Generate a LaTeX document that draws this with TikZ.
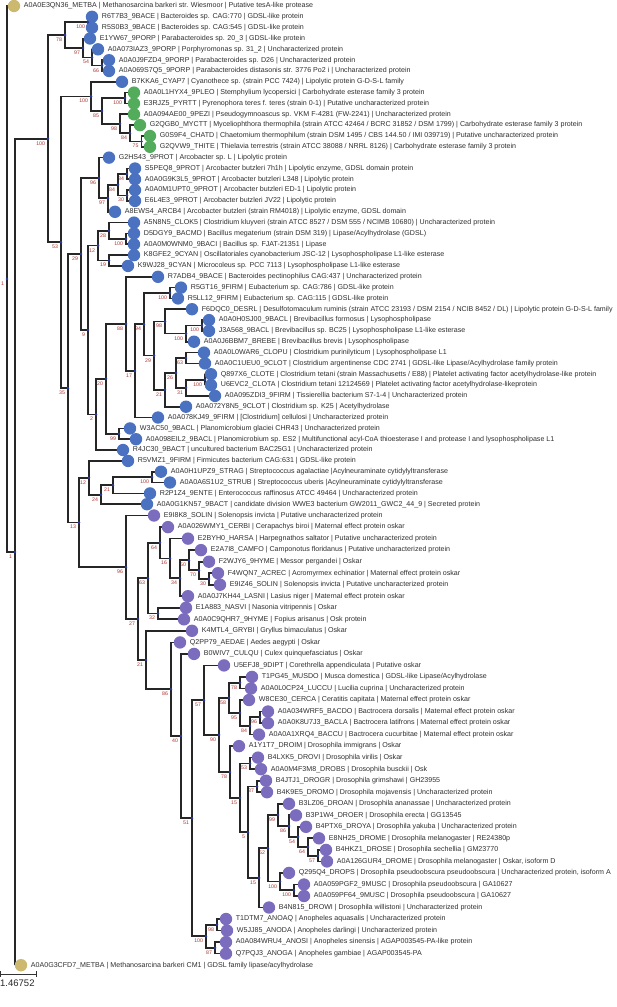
\documentclass[tikz,border=0pt]{standalone}
\usepackage{fontspec}
\setmainfont{Liberation Sans}
\usetikzlibrary{calc}
\pgfdeclarelayer{front}
\pgfsetlayers{main,front}
\definecolor{cblue}{RGB}{74,114,192}
\definecolor{cgreen}{RGB}{82,172,92}
\definecolor{cpurple}{RGB}{124,108,190}
\definecolor{ctan}{RGB}{205,184,112}
\definecolor{cnavy}{RGB}{40,60,160}
\definecolor{cboot}{RGB}{172,52,52}
\newcommand\clade[5]{%
  \path let \p1=($(#3)!.5!(#4)$) in (#2pt,\y1) coordinate (#1);
  \draw[twig] (#3) -| (#1) |- (#4);
  \begin{pgfonlayer}{front}\fill[cnavy] (#1) circle (1.4pt);\end{pgfonlayer}
  \node[boot] (#1b) at (#1) {#5};}

\begin{document}
\begin{tikzpicture}[x=1pt,y=-1pt,label distance=3.3pt,
    twig/.style={line width=1.7pt,draw=black!85},
    leaf/.style={circle,fill=#1,inner sep=0pt,minimum size=12.4pt},
    lab/.style={inner sep=0pt,font=\fontsize{7.1}{8}\selectfont,text=black!82},
    boot/.style={anchor=north east,inner sep=0.3pt,xshift=-2.5pt,yshift=-2.3pt,
      font=\fontsize{5.2}{6}\selectfont,text=cboot}]
\useasboundingbox (0,0) rectangle (617,1007);
\begin{pgfonlayer}{front}
\node[leaf=ctan,label={[lab]right:{A0A0E3QN36\_METBA | Methanosarcina barkeri str. Wiesmoor | Putative tesA-like protease}}] (a0a0e3qn36) at (14,6) {};
\node[leaf=cblue,label={[lab]right:{R6T7B3\_9BACE | Bacteroides sp. CAG:770 | GDSL-like protein}}] (r6t7b3) at (92,16.8) {};
\node[leaf=cblue,label={[lab]right:{R5S0B3\_9BACE | Bacteroides sp. CAG:545 | GDSL-like protein}}] (r5s0b3) at (92,27.7) {};
\node[leaf=cblue,label={[lab]right:{E1YW67\_9PORP | Parabacteroides sp. 20\_3 | GDSL-like protein}}] (e1yw67) at (90,38.5) {};
\node[leaf=cblue,label={[lab]right:{A0A073IAZ3\_9PORP | Porphyromonas sp. 31\_2 | Uncharacterized protein}}] (a0a073iaz3) at (98,49.3) {};
\node[leaf=cblue,label={[lab]right:{A0A0J9FZD4\_9PORP | Parabacteroides sp. D26 | Uncharacterized protein}}] (a0a0j9fzd4) at (109,60.2) {};
\node[leaf=cblue,label={[lab]right:{A0A069S7Q5\_9PORP | Parabacteroides distasonis str. 3776 Po2 i | Uncharacterized protein}}] (a0a069s7q5) at (109,71.0) {};
\node[leaf=cblue,label={[lab]right:{B7KKA6\_CYAP7 | Cyanothece sp. (strain PCC 7424) | Lipolytic protein G-D-S-L family}}] (b7kka6) at (122,81.8) {};
\node[leaf=cgreen,label={[lab]right:{A0A0L1HYX4\_9PLEO | Stemphylium lycopersici | Carbohydrate esterase family 3 protein}}] (a0a0l1hyx4) at (134,92.6) {};
\node[leaf=cgreen,label={[lab]right:{E3RJZ5\_PYRTT | Pyrenophora teres f. teres (strain 0-1) | Putative uncharacterized protein}}] (e3rjz5) at (134,103.5) {};
\node[leaf=cgreen,label={[lab]right:{A0A094AE00\_9PEZI | Pseudogymnoascus sp. VKM F-4281 (FW-2241) | Uncharacterized protein}}] (a0a094ae00) at (134,114.3) {};
\node[leaf=cgreen,label={[lab]right:{G2QGB0\_MYCTT | Myceliophthora thermophila (strain ATCC 42464 / BCRC 31852 / DSM 1799) | Carbohydrate esterase family 3 protein}}] (g2qgb0) at (140,125.1) {};
\node[leaf=cgreen,label={[lab]right:{G0S9F4\_CHATD | Chaetomium thermophilum (strain DSM 1495 / CBS 144.50 / IMI 039719) | Putative uncharacterized protein}}] (g0s9f4) at (150,136.0) {};
\node[leaf=cgreen,label={[lab]right:{G2QVW9\_THITE | Thielavia terrestris (strain ATCC 38088 / NRRL 8126) | Carbohydrate esterase family 3 protein}}] (g2qvw9) at (150,146.8) {};
\node[leaf=cblue,label={[lab]right:{G2HS43\_9PROT | Arcobacter sp. L | Lipolytic protein}}] (g2hs43) at (109,157.6) {};
\node[leaf=cblue,label={[lab]right:{S5PEQ8\_9PROT | Arcobacter butzleri 7h1h | Lipolytic enzyme, GDSL domain protein}}] (s5peq8) at (135,168.5) {};
\node[leaf=cblue,label={[lab]right:{A0A0G9K3L5\_9PROT | Arcobacter butzleri L348 | Lipolytic protein}}] (a0a0g9k3l5) at (135,179.3) {};
\node[leaf=cblue,label={[lab]right:{A0A0M1UPT0\_9PROT | Arcobacter butzleri ED-1 | Lipolytic protein}}] (a0a0m1upt0) at (135,190.1) {};
\node[leaf=cblue,label={[lab]right:{E6L4E3\_9PROT | Arcobacter butzleri JV22 | Lipolytic protein}}] (e6l4e3) at (135,200.9) {};
\node[leaf=cblue,label={[lab]right:{A8EWS4\_ARCB4 | Arcobacter butzleri (strain RM4018) | Lipolytic enzyme, GDSL domain}}] (a8ews4) at (115,211.8) {};
\node[leaf=cblue,label={[lab]right:{A5N8N5\_CLOK5 | Clostridium kluyveri (strain ATCC 8527 / DSM 555 / NCIMB 10680) | Uncharacterized protein}}] (a5n8n5) at (134,222.6) {};
\node[leaf=cblue,label={[lab]right:{D5DGY9\_BACMD | Bacillus megaterium (strain DSM 319) | Lipase/Acylhydrolase (GDSL)}}] (d5dgy9) at (134,233.4) {};
\node[leaf=cblue,label={[lab]right:{A0A0M0WNM0\_9BACI | Bacillus sp. FJAT-21351 | Lipase}}] (a0a0m0wnm0) at (134,244.3) {};
\node[leaf=cblue,label={[lab]right:{K8GFE2\_9CYAN | Oscillatoriales cyanobacterium JSC-12 | Lysophospholipase L1-like esterase}}] (k8gfe2) at (134,255.1) {};
\node[leaf=cblue,label={[lab]right:{K9WJ28\_9CYAN | Microcoleus sp. PCC 7113 | Lysophospholipase L1-like esterase}}] (k9wj28) at (128,265.9) {};
\node[leaf=cblue,label={[lab]right:{R7ADB4\_9BACE | Bacteroides pectinophilus CAG:437 | Uncharacterized protein}}] (r7adb4) at (158,276.8) {};
\node[leaf=cblue,label={[lab]right:{R5GT16\_9FIRM | Eubacterium sp. CAG:786 | GDSL-like protein}}] (r5gt16) at (181,287.6) {};
\node[leaf=cblue,label={[lab]right:{R5LL12\_9FIRM | Eubacterium sp. CAG:115 | GDSL-like protein}}] (r5ll12) at (178,298.4) {};
\node[leaf=cblue,label={[lab]right:{F6DQC0\_DESRL | Desulfotomaculum ruminis (strain ATCC 23193 / DSM 2154 / NCIB 8452 / DL) | Lipolytic protein G-D-S-L family}}] (f6dqc0) at (192,309.2) {};
\node[leaf=cblue,label={[lab]right:{A0A0H0SJ00\_9BACL | Brevibacillus formosus | Lysophospholipase}}] (a0a0h0sj00) at (209,320.1) {};
\node[leaf=cblue,label={[lab]right:{J3A568\_9BACL | Brevibacillus sp. BC25 | Lysophospholipase L1-like esterase}}] (j3a568) at (209,330.9) {};
\node[leaf=cblue,label={[lab]right:{A0A0J6BBM7\_BREBE | Brevibacillus brevis | Lysophospholipase}}] (a0a0j6bbm7) at (194,341.7) {};
\node[leaf=cblue,label={[lab]right:{A0A0L0WAR6\_CLOPU | Clostridium purinilyticum | Lysophospholipase L1}}] (a0a0l0war6) at (204,352.6) {};
\node[leaf=cblue,label={[lab]right:{A0A0C1UEU0\_9CLOT | Clostridium argentinense CDC 2741 | GDSL-like Lipase/Acylhydrolase family protein}}] (a0a0c1ueu0) at (205,363.4) {};
\node[leaf=cblue,label={[lab]right:{Q897X6\_CLOTE | Clostridium tetani (strain Massachusetts / E88) | Platelet activating factor acetylhydrolase-like protein}}] (q897x6) at (211,374.2) {};
\node[leaf=cblue,label={[lab]right:{U6EVC2\_CLOTA | Clostridium tetani 12124569 | Platelet activating factor acetylhydrolase-likeprotein}}] (u6evc2) at (211,385.1) {};
\node[leaf=cblue,label={[lab]right:{A0A095ZDI3\_9FIRM | Tissierellia bacterium S7-1-4 | Uncharacterized protein}}] (a0a095zdi3) at (215,395.9) {};
\node[leaf=cblue,label={[lab]right:{A0A072Y8N5\_9CLOT | Clostridium sp. K25 | Acetylhydrolase}}] (a0a072y8n5) at (186,406.7) {};
\node[leaf=cblue,label={[lab]right:{A0A078KJ49\_9FIRM | [Clostridium] cellulosi | Uncharacterized protein}}] (a0a078kj49) at (158,417.5) {};
\node[leaf=cblue,label={[lab]right:{W3AC50\_9BACL | Planomicrobium glaciei CHR43 | Uncharacterized protein}}] (w3ac50) at (130,428.4) {};
\node[leaf=cblue,label={[lab]right:{A0A098EIL2\_9BACL | Planomicrobium sp. ES2 | Multifunctional acyl-CoA thioesterase I and protease I and lysophospholipase L1}}] (a0a098eil2) at (136,439.2) {};
\node[leaf=cblue,label={[lab]right:{R4JC30\_9BACT | uncultured bacterium BAC25G1 | Uncharacterized protein}}] (r4jc30) at (123,450.0) {};
\node[leaf=cblue,label={[lab]right:{R5VMZ1\_9FIRM | Firmicutes bacterium CAG:631 | GDSL-like protein}}] (r5vmz1) at (128,460.9) {};
\node[leaf=cblue,label={[lab]right:{A0A0H1UPZ9\_STRAG | Streptococcus agalactiae |Acylneuraminate cytidylyltransferase}}] (a0a0h1upz9) at (161,471.7) {};
\node[leaf=cblue,label={[lab]right:{A0A0A6S1U2\_STRUB | Streptococcus uberis |Acylneuraminate cytidylyltransferase}}] (a0a0a6s1u2) at (170,482.5) {};
\node[leaf=cblue,label={[lab]right:{R2P1Z4\_9ENTE | Enterococcus raffinosus ATCC 49464 | Uncharacterized protein}}] (r2p1z4) at (150,493.4) {};
\node[leaf=cblue,label={[lab]right:{A0A0G1KN57\_9BACT | candidate division WWE3 bacterium GW2011\_GWC2\_44\_9 | Secreted protein}}] (a0a0g1kn57) at (147,504.2) {};
\node[leaf=cpurple,label={[lab]right:{E9I8K8\_SOLIN | Solenopsis invicta | Putative uncharacterized protein}}] (e9i8k8) at (154,515.5) {};
\node[leaf=cpurple,label={[lab]right:{A0A026WMY1\_CERBI | Cerapachys biroi | Maternal effect protein oskar}}] (a0a026wmy1) at (168,527.1) {};
\node[leaf=cpurple,label={[lab]right:{E2BYH0\_HARSA | Harpegnathos saltator | Putative uncharacterized protein}}] (e2byh0) at (188,538.6) {};
\node[leaf=cpurple,label={[lab]right:{E2A7I8\_CAMFO | Camponotus floridanus | Putative uncharacterized protein}}] (e2a7i8) at (201,550.1) {};
\node[leaf=cpurple,label={[lab]right:{F2WJY6\_9HYME | Messor pergandei | Oskar}}] (f2wjy6) at (209,561.7) {};
\node[leaf=cpurple,label={[lab]right:{F4WQN7\_ACREC | Acromyrmex echinatior | Maternal effect protein oskar}}] (f4wqn7) at (218,573.2) {};
\node[leaf=cpurple,label={[lab]right:{E9IZ46\_SOLIN | Solenopsis invicta | Putative uncharacterized protein}}] (e9iz46) at (220,584.7) {};
\node[leaf=cpurple,label={[lab]right:{A0A0J7KH44\_LASNI | Lasius niger | Maternal effect protein oskar}}] (a0a0j7kh44) at (188,596.2) {};
\node[leaf=cpurple,label={[lab]right:{E1A883\_NASVI | Nasonia vitripennis | Oskar}}] (e1a883) at (186,607.8) {};
\node[leaf=cpurple,label={[lab]right:{A0A0C9QHR7\_9HYME | Fopius arisanus | Osk protein}}] (a0a0c9qhr7) at (184,619.3) {};
\node[leaf=cpurple,label={[lab]right:{K4MTL4\_GRYBI | Gryllus bimaculatus | Oskar}}] (k4mtl4) at (192,630.8) {};
\node[leaf=cpurple,label={[lab]right:{Q2PP79\_AEDAE | Aedes aegypti | Oskar}}] (q2pp79) at (180,642.4) {};
\node[leaf=cpurple,label={[lab]right:{B0WIV7\_CULQU | Culex quinquefasciatus | Oskar}}] (b0wiv7) at (194,653.9) {};
\node[leaf=cpurple,label={[lab]right:{U5EFJ8\_9DIPT | Corethrella appendiculata | Putative oskar}}] (u5efj8) at (224,665.4) {};
\node[leaf=cpurple,label={[lab]right:{T1PG45\_MUSDO | Musca domestica | GDSL-like Lipase/Acylhydrolase}}] (t1pg45) at (252,676.9) {};
\node[leaf=cpurple,label={[lab]right:{A0A0L0CP24\_LUCCU | Lucilia cuprina | Uncharacterized protein}}] (a0a0l0cp24) at (251,688.5) {};
\node[leaf=cpurple,label={[lab]right:{W8CE30\_CERCA | Ceratitis capitata | Maternal effect protein oskar}}] (w8ce30) at (249,700.0) {};
\node[leaf=cpurple,label={[lab]right:{A0A034WRF5\_BACDO | Bactrocera dorsalis | Maternal effect protein oskar}}] (a0a034wrf5) at (268,711.5) {};
\node[leaf=cpurple,label={[lab]right:{A0A0K8U7J3\_BACLA | Bactrocera latifrons | Maternal effect protein oskar}}] (a0a0k8u7j3) at (268,723.1) {};
\node[leaf=cpurple,label={[lab]right:{A0A0A1XRQ4\_BACCU | Bactrocera cucurbitae | Maternal effect protein oskar}}] (a0a0a1xrq4) at (259,734.6) {};
\node[leaf=cpurple,label={[lab]right:{A1Y1T7\_DROIM | Drosophila immigrans | Oskar}}] (a1y1t7) at (239,746.1) {};
\node[leaf=cpurple,label={[lab]right:{B4LXK5\_DROVI | Drosophila virilis | Oskar}}] (b4lxk5) at (258,757.6) {};
\node[leaf=cpurple,label={[lab]right:{A0A0M4F3M8\_DROBS | Drosophila busckii | Osk}}] (a0a0m4f3m8) at (261,769.2) {};
\node[leaf=cpurple,label={[lab]right:{B4JTJ1\_DROGR | Drosophila grimshawi | GH23955}}] (b4jtj1) at (266,780.7) {};
\node[leaf=cpurple,label={[lab]right:{B4K9E5\_DROMO | Drosophila mojavensis | Uncharacterized protein}}] (b4k9e5) at (267,792.2) {};
\node[leaf=cpurple,label={[lab]right:{B3LZ06\_DROAN | Drosophila ananassae | Uncharacterized protein}}] (b3lz06) at (289,803.8) {};
\node[leaf=cpurple,label={[lab]right:{B3P1W4\_DROER | Drosophila erecta | GG13545}}] (b3p1w4) at (296,815.3) {};
\node[leaf=cpurple,label={[lab]right:{B4PTX6\_DROYA | Drosophila yakuba | Uncharacterized protein}}] (b4ptx6) at (306,826.8) {};
\node[leaf=cpurple,label={[lab]right:{E8NH25\_DROME | Drosophila melanogaster | RE24380p}}] (e8nh25) at (319,838.3) {};
\node[leaf=cpurple,label={[lab]right:{B4HKZ1\_DROSE | Drosophila sechellia | GM23770}}] (b4hkz1) at (326,849.9) {};
\node[leaf=cpurple,label={[lab]right:{A0A126GUR4\_DROME | Drosophila melanogaster | Oskar, isoform D}}] (a0a126gur4) at (327,861.4) {};
\node[leaf=cpurple,label={[lab]right:{Q295Q4\_DROPS | Drosophila pseudoobscura pseudoobscura | Uncharacterized protein, isoform A}}] (q295q4) at (289,872.9) {};
\node[leaf=cpurple,label={[lab]right:{A0A059PGF2\_9MUSC | Drosophila pseudoobscura | GA10627}}] (a0a059pgf2) at (304,884.5) {};
\node[leaf=cpurple,label={[lab]right:{A0A059PF64\_9MUSC | Drosophila pseudoobscura | GA10627}}] (a0a059pf64) at (304,896.0) {};
\node[leaf=cpurple,label={[lab]right:{B4N815\_DROWI | Drosophila willistoni | Uncharacterized protein}}] (b4n815) at (269,907.5) {};
\node[leaf=cpurple,label={[lab]right:{T1DTM7\_ANOAQ | Anopheles aquasalis | Uncharacterized protein}}] (t1dtm7) at (226,919.0) {};
\node[leaf=cpurple,label={[lab]right:{W5JJ85\_ANODA | Anopheles darlingi | Uncharacterized protein}}] (w5jj85) at (227,930.6) {};
\node[leaf=cpurple,label={[lab]right:{A0A084WRU4\_ANOSI | Anopheles sinensis | AGAP003545-PA-like protein}}] (a0a084wru4) at (226,942.1) {};
\node[leaf=cpurple,label={[lab]right:{Q7PQJ3\_ANOGA | Anopheles gambiae | AGAP003545-PA}}] (q7pqj3) at (226,953.6) {};
\node[leaf=ctan,label={[lab]right:{A0A0G3CFD7\_METBA | Methanosarcina barkeri CM1 | GDSL family lipase/acylhydrolase}}] (a0a0g3cfd7) at (21,965.2) {};
\end{pgfonlayer}
\clade{bac100}{88}{r6t7b3}{r5s0b3}{100}
\clade{bac66}{102}{a0a0j9fzd4}{a0a069s7q5}{66}
\clade{bac54}{92}{a0a073iaz3}{bac66}{54}
\clade{bac97}{83}{e1yw67}{bac54}{97}
\clade{bac78}{65}{bac100}{bac97}{78}
\clade{fun100}{125}{a0a0l1hyx4}{e3rjz5}{100}
\clade{fun75}{141.5}{g0s9f4}{g2qvw9}{75}
\clade{fun84}{130}{g2qgb0}{fun75}{84}
\clade{fun98}{120}{a0a094ae00}{fun84}{98}
\clade{fun85}{102}{fun100}{fun98}{85}
\clade{cya100}{91}{b7kka6}{fun85}{100}
\clade{arc84b}{127}{s5peq8}{a0a0g9k3l5}{84}
\clade{arc30}{127}{a0a0m1upt0}{e6l4e3}{30}
\clade{arc84}{118}{arc84b}{arc30}{84}
\clade{arc97}{108}{arc84}{a8ews4}{97}
\clade{arc96}{99}{g2hs43}{arc97}{96}
\clade{cl100}{126}{d5dgy9}{a0a0m0wnm0}{100}
\clade{cl28}{109}{a5n8n5}{cl100}{28}
\clade{cy19}{109}{k8gfe2}{k9wj28}{19}
\clade{cl12}{98}{cl28}{cy19}{12}
\clade{fi100}{170}{r5gt16}{r5ll12}{100}
\clade{br100b}{202}{a0a0h0sj00}{j3a568}{100}
\clade{br100}{186}{br100b}{a0a0j6bbm7}{100}
\clade{fi98}{165}{f6dqc0}{br100}{98}
\clade{cl63}{186}{a0a0l0war6}{a0a0c1ueu0}{63}
\clade{cl100b}{205}{q897x6}{u6evc2}{100}
\clade{cl31}{186}{cl100b}{a0a095zdi3}{31}
\clade{cl26}{176}{cl63}{cl31}{26}
\clade{cl21}{165}{cl26}{a0a072y8n5}{21}
\clade{fi29}{154}{fi98}{cl21}{29}
\clade{fi94}{144}{fi100}{fi29}{94}
\clade{fi17}{135}{fi94}{a0a078kj49}{17}
\clade{fi88}{126}{r7adb4}{fi17}{88}
\clade{pl99}{119}{w3ac50}{a0a098eil2}{99}
\clade{mid20}{106}{fi88}{pl99}{20}
\clade{mid2}{96}{mid20}{r4jc30}{2}
\clade{mid9}{88}{cl12}{mid2}{9}
\clade{mid29}{81}{arc96}{mid9}{29}
\clade{st100}{152}{a0a0h1upz9}{a0a0a6s1u2}{100}
\clade{st21}{113}{st100}{r2p1z4}{21}
\clade{st24}{101}{st21}{a0a0g1kn57}{24}
\clade{st12}{89}{r5vmz1}{st24}{12}
\clade{hy30}{209}{f4wqn7}{e9iz46}{30}
\clade{hy70}{199}{f2wjy6}{hy30}{70}
\clade{hy50}{189}{e2a7i8}{hy70}{50}
\clade{hy34}{180}{hy50}{a0a0j7kh44}{34}
\clade{hy16}{170}{e2byh0}{hy34}{16}
\clade{hy64}{160}{a0a026wmy1}{hy16}{64}
\clade{hy32}{158}{e1a883}{a0a0c9qhr7}{32}
\clade{hy63}{148}{hy64}{hy32}{63}
\clade{di78}{240}{t1pg45}{a0a0l0cp24}{78}
\clade{di96}{260}{a0a034wrf5}{a0a0k8u7j3}{96}
\clade{di84}{250}{di96}{a0a0a1xrq4}{84}
\clade{di95}{240}{w8ce30}{di84}{95}
\clade{di58}{229}{di78}{di95}{58}
\clade{dr53}{250}{b4lxk5}{a0a0m4f3m8}{53}
\clade{dr37}{257}{b4jtj1}{b4k9e5}{37}
\clade{dr57}{318}{b4hkz1}{a0a126gur4}{57}
\clade{dr64}{308}{e8nh25}{dr57}{64}
\clade{dr54}{298}{b4ptx6}{dr64}{54}
\clade{dr86}{289}{b3p1w4}{dr54}{86}
\clade{dr99}{278}{b3lz06}{dr86}{99}
\clade{dr100b}{294}{a0a059pgf2}{a0a059pf64}{100}
\clade{dr100}{280}{q295q4}{dr100b}{100}
\clade{dr52}{268}{dr99}{dr100}{52}
\clade{dr15b}{259}{dr52}{b4n815}{15}
\clade{dr5}{248}{dr37}{dr15b}{5}
\clade{dr15}{240}{dr53}{dr5}{15}
\clade{dr78}{230}{a1y1t7}{dr15}{78}
\clade{di90}{219}{di58}{dr78}{90}
\clade{di57}{204}{u5efj8}{di90}{57}
\clade{an98}{217}{t1dtm7}{w5jj85}{98}
\clade{an87}{215}{a0a084wru4}{q7pqj3}{87}
\clade{an100}{206}{an98}{an87}{100}
\clade{di51}{192}{di57}{an100}{51}
\clade{di40}{181}{b0wiv7}{di51}{40}
\clade{in86}{171}{q2pp79}{di40}{86}
\clade{in21}{146}{k4mtl4}{in86}{21}
\clade{osk27}{138}{hy63}{in21}{27}
\clade{osk96}{126}{e9i8k8}{osk27}{96}
\clade{mid13}{79}{st12}{osk96}{13}
\clade{mid35}{68}{mid29}{mid13}{35}
\clade{mid53}{61}{cya100}{mid35}{53}
\clade{ingrp}{48}{bac78}{mid53}{100}
\clade{out}{15}{ingrp}{a0a0g3cfd7}{1}
\clade{root}{7}{a0a0e3qn36}{out}{1}
\draw[black!80,line width=0.8pt] (0,974) -- (37,974) (0.4,971.3) -- (0.4,976.7) (36.6,971.3) -- (36.6,976.7);
\node[anchor=north west,inner sep=0pt,font=\fontsize{9.5}{11}\selectfont,text=black!85] (scale) at (0,979.5) {1.46752};
\end{tikzpicture}
\end{document}
